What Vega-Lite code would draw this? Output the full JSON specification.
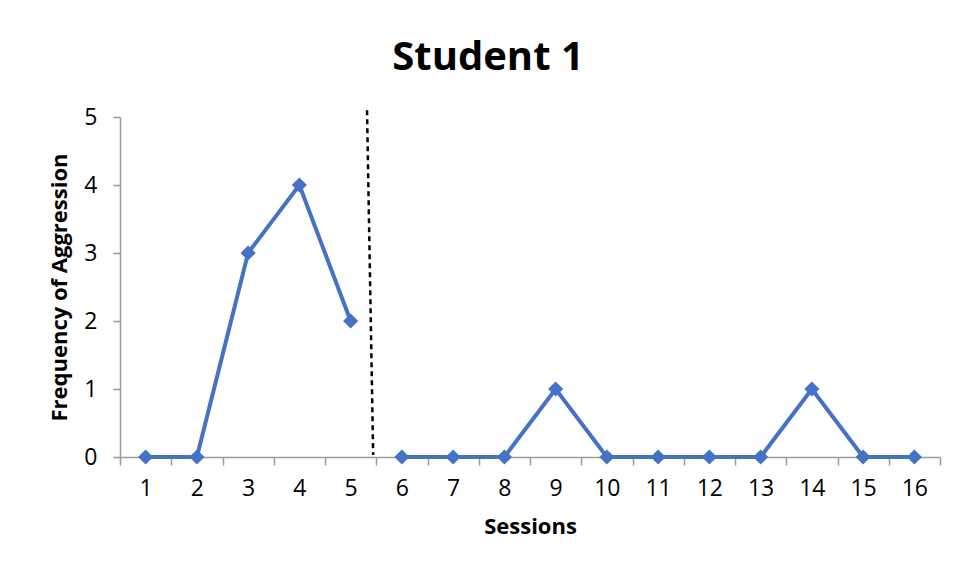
{
  "$schema": "https://vega.github.io/schema/vega-lite/v6.json",
  "width": 820,
  "height": 340,
  "autosize": {"type": "none"},
  "padding": {"left": 120, "top": 117, "right": 19, "bottom": 121},
  "background": "white",
  "title": {
    "text": "Student 1",
    "font": "Open Sans",
    "fontSize": 40,
    "fontWeight": "bold",
    "color": "black",
    "anchor": "middle",
    "dx": -42,
    "offset": 28
  },
  "config": {
    "view": {"stroke": null},
    "font": "Open Sans"
  },
  "layer": [
    {
      "data": {
        "values": [
          {"session": "1", "frequency": 0},
          {"session": "2", "frequency": 0},
          {"session": "3", "frequency": 3},
          {"session": "4", "frequency": 4},
          {"session": "5", "frequency": 2},
          {"session": "6", "frequency": null},
          {"session": "6", "frequency": 0},
          {"session": "7", "frequency": 0},
          {"session": "8", "frequency": 0},
          {"session": "9", "frequency": 1},
          {"session": "10", "frequency": 0},
          {"session": "11", "frequency": 0},
          {"session": "12", "frequency": 0},
          {"session": "13", "frequency": 0},
          {"session": "14", "frequency": 1},
          {"session": "15", "frequency": 0},
          {"session": "16", "frequency": 0}
        ]
      },
      "mark": {
        "type": "line",
        "color": "#4472C4",
        "strokeWidth": 4,
        "point": {"shape": "diamond", "size": 230, "filled": true, "color": "#4472C4"}
      },
      "encoding": {
        "x": {
          "field": "session",
          "type": "ordinal",
          "sort": null,
          "scale": {"type": "band", "paddingInner": 0, "paddingOuter": 0},
          "axis": {
            "title": "Sessions",
            "titleFontSize": 22,
            "titleFontWeight": "bold",
            "titleColor": "black",
            "titlePadding": 16,
            "labelFontSize": 23,
            "labelColor": "black",
            "labelAngle": 0,
            "labelPadding": 12,
            "tickBand": "extent",
            "tickSize": 8,
            "tickColor": "#9a9a9a",
            "domainColor": "#9a9a9a",
            "domainWidth": 1.5,
            "tickWidth": 1.5,
            "grid": false
          }
        },
        "y": {
          "field": "frequency",
          "type": "quantitative",
          "scale": {"domain": [0, 5]},
          "axis": {
            "values": [0, 1, 2, 3, 4, 5],
            "format": "d",
            "title": "Frequency of Aggression",
            "titleFontSize": 22,
            "titleFontWeight": "bold",
            "titleColor": "black",
            "titlePadding": 12,
            "labelFontSize": 23,
            "labelColor": "black",
            "labelPadding": 16,
            "tickSize": 7,
            "tickColor": "#9a9a9a",
            "domainColor": "#9a9a9a",
            "domainWidth": 1.5,
            "tickWidth": 1.5,
            "grid": false
          }
        }
      }
    },
    {
      "data": {"values": [{"phase_top": 5.32, "phase_bottom": 5.44, "level_top": 5.1, "level_bottom": 0.03}]},
      "mark": {"type": "rule", "color": "black", "strokeWidth": 2.5, "strokeDash": [5, 4]},
      "encoding": {
        "x": {"field": "phase_top", "type": "quantitative", "scale": {"domain": [0.5, 16.5]}, "axis": null},
        "x2": {"field": "phase_bottom"},
        "y": {"field": "level_top", "type": "quantitative"},
        "y2": {"field": "level_bottom"}
      }
    }
  ],
  "resolve": {"scale": {"x": "independent"}}
}
